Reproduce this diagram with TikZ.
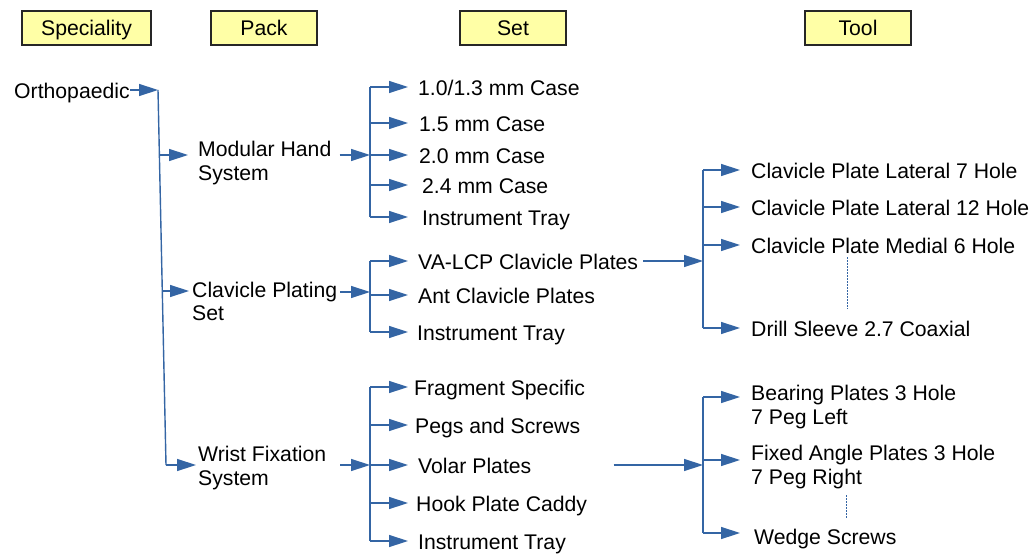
\documentclass[tikz,border=0pt]{standalone}
\usepackage{fontspec}
\setmainfont{Liberation Sans}
\usetikzlibrary{arrows.meta,calc}
\definecolor{lnblue}{HTML}{3465A4}
\definecolor{hdrfill}{HTML}{FFFFA6}
\begin{document}
\begin{tikzpicture}[x=1pt,y=-1pt,
  every node/.style={font=\fontsize{21.2}{23.5}\selectfont, text=black},
  hdr/.style={draw=black!85, line width=1.3pt, fill=hdrfill, minimum height=34pt, inner sep=0pt, text height=19pt, text depth=3pt},
  lbl/.style={anchor=west, inner sep=0pt, text height=20.5pt, text depth=3pt},
  mlbl/.style={anchor=north west, align=left, inner sep=0pt},
  arr/.style={draw=lnblue, line width=1.4pt, -{Triangle[length=19pt,width=12pt]}},
  ln/.style={draw=lnblue, line width=1.4pt},
  dots/.style={draw=lnblue, line width=0.9pt, dash pattern=on 1.5pt off 1.5pt}]
\useasboundingbox (0,0) rectangle (1032,556);

% headers
\node[hdr, minimum width=129pt] (hs)  at (86.5,28) {Speciality};
\node[hdr, minimum width=106pt] (hp)  at (264,28) {Pack};
\node[hdr, minimum width=106pt] (hst) at (513,28) {Set};
\node[hdr, minimum width=106pt] (ht)  at (858,28) {Tool};

% speciality
\node[lbl] (orth) at (14,90) {Orthopaedic};
\coordinate (tr0) at (158,90);
\coordinate (tr1) at (159.5,155);
\coordinate (tr2) at (162.5,291);
\coordinate (tr3) at (166,465);
\draw[arr] (orth.east) -- (tr0);
\draw[ln] (tr0) -- (tr3);

% packs
\node[mlbl] (mh) at (198,141) {Modular Hand\\System};
\node[mlbl] (cp) at (192,281.5) {Clavicle Plating\\Set};
\node[mlbl] (wf) at (198,446) {Wrist Fixation\\System};
\draw[arr, shorten >=10pt] (tr1) -- (tr1 -| mh.west);
\draw[arr, shorten >=3pt] (tr2) -- (tr2 -| cp.west);
\draw[arr, shorten >=2pt] (tr3) -- (tr3 -| wf.west);

% bus coordinates
\coordinate (b1) at (370,155);
\coordinate (b2) at (370,292);
\coordinate (b3) at (370,465);
\coordinate (b4) at (703,261);
\coordinate (b5) at (703,465);

\draw[arr, shorten <=8pt] (mh.east |- b1) -- (b1);
\draw[arr, shorten <=3pt] (cp.east |- b2) -- (b2);
\draw[arr, shorten <=14pt] (wf.east |- b3) -- (b3);

% sets: modular hand
\node[lbl] (s1) at (418,87) {1.0/1.3 mm Case};
\node[lbl] (s2) at (419,123) {1.5 mm Case};
\node[lbl] (s3) at (419,155) {2.0 mm Case};
\node[lbl] (s4) at (422,185) {2.4 mm Case};
\node[lbl] (s5) at (422,217) {Instrument Tray};
\draw[ln] (b1 |- s1.west) -- (b1 |- s5.west);
\draw[arr, shorten >=10pt] (b1 |- s1.west) -- (s1.west);
\draw[arr, shorten >=11pt] (b1 |- s2.west) -- (s2.west);
\draw[arr, shorten >=11pt] (b1 |- s3.west) -- (s3.west);
\draw[arr, shorten >=14pt] (b1 |- s4.west) -- (s4.west);
\draw[arr, shorten >=14pt] (b1 |- s5.west) -- (s5.west);

% sets: clavicle
\node[lbl] (c1) at (418,261) {VA-LCP Clavicle Plates};
\node[lbl] (c2) at (418,295) {Ant Clavicle Plates};
\node[lbl] (c3) at (417,332) {Instrument Tray};
\draw[ln] (b2 |- c1.west) -- (b2 |- c3.west);
\draw[arr, shorten >=10pt] (b2 |- c1.west) -- (c1.west);
\draw[arr, shorten >=10pt] (b2 |- c2.west) -- (c2.west);
\draw[arr, shorten >=9pt] (b2 |- c3.west) -- (c3.west);

% sets: wrist
\node[lbl] (w1) at (414,387) {Fragment Specific};
\node[lbl] (w2) at (415,425) {Pegs and Screws};
\node[lbl] (w3) at (418,465) {Volar Plates};
\node[lbl] (w4) at (416,503) {Hook Plate Caddy};
\node[lbl] (w5) at (418,541) {Instrument Tray};
\draw[ln] (b3 |- w1.west) -- (b3 |- w5.west);
\draw[arr, shorten >=6pt] (b3 |- w1.west) -- (w1.west);
\draw[arr, shorten >=7pt] (b3 |- w2.west) -- (w2.west);
\draw[arr, shorten >=10pt] (b3 |- w3.west) -- (w3.west);
\draw[arr, shorten >=8pt] (b3 |- w4.west) -- (w4.west);
\draw[arr, shorten >=10pt] (b3 |- w5.west) -- (w5.west);

% tools: clavicle
\draw[arr, shorten <=5pt] (c1.east) -- (b4);
\node[lbl] (t1) at (751,170) {Clavicle Plate Lateral 7 Hole};
\node[lbl] (t2) at (751,207) {Clavicle Plate Lateral 12 Hole};
\node[lbl] (t3) at (751,245) {Clavicle Plate Medial 6 Hole};
\node[lbl] (t4) at (751,328) {Drill Sleeve 2.7 Coaxial};
\draw[ln] (b4 |- t1.west) -- (b4 |- t4.west);
\draw[arr, shorten >=11pt] (b4 |- t1.west) -- (t1.west);
\draw[arr, shorten >=11pt] (b4 |- t2.west) -- (t2.west);
\draw[arr, shorten >=11pt] (b4 |- t3.west) -- (t3.west);
\draw[arr, shorten >=11pt] (b4 |- t4.west) -- (t4.west);
\draw[dots] (847,257) -- (847,309);

% tools: volar
\draw[arr, shorten <=82pt] (w3.east) -- (b5);
\node[mlbl] (bp) at (751,385) {Bearing Plates 3 Hole\\7 Peg Left};
\node[mlbl] (fa) at (751,445) {Fixed Angle Plates 3 Hole\\7 Peg Right};
\node[lbl] (ws) at (754,536) {Wedge Screws};
\coordinate (bpT) at ([yshift=-12pt]bp.north west);
\coordinate (faT) at ([yshift=-15pt]fa.north west);
\coordinate (wsT) at ([yshift=3pt]ws.west);
\draw[ln] (b5 |- bpT) -- (b5 |- wsT);
\draw[arr, shorten >=11pt] (b5 |- bpT) -- (bpT);
\draw[arr, shorten >=11pt] (b5 |- faT) -- (faT);
\draw[arr, shorten >=14pt] (b5 |- wsT) -- (wsT);
\draw[dots] (846,495) -- (846,518);
\end{tikzpicture}
\end{document}
